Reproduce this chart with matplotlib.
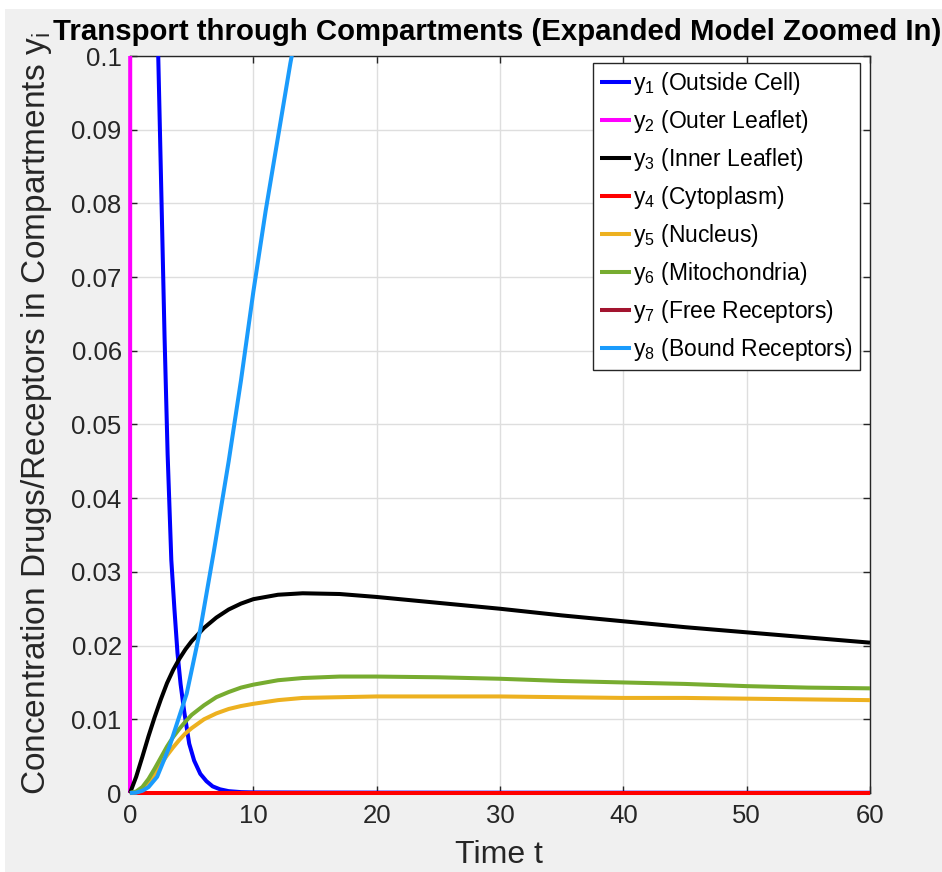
import matplotlib
matplotlib.use("Agg")
import matplotlib.pyplot as plt
from matplotlib.patches import Rectangle
from matplotlib.ticker import FuncFormatter

plt.rcParams['font.family'] = ['Liberation Sans', 'DejaVu Sans']

# time grid shared by the smooth compartments
t = [0, 0.5, 1, 1.5, 2, 2.5, 3, 3.5, 4, 4.5, 5, 6, 7, 8, 9, 10, 12, 14, 17, 20, 25, 30, 35, 40, 45, 50, 55, 60]
y3_inner = [0, 0.0022, 0.0049, 0.0077, 0.0103, 0.0127, 0.0149, 0.0167, 0.0182, 0.0195, 0.0206, 0.0224,
            0.0238, 0.0249, 0.0257, 0.0263, 0.0269, 0.0271, 0.0270, 0.0266, 0.0258, 0.0250, 0.0241,
            0.0233, 0.0225, 0.0218, 0.0211, 0.0204]
y5_nucleus = [0, 0.0001, 0.0004, 0.0012, 0.0026, 0.0039, 0.0051, 0.0062, 0.0072, 0.0081, 0.0088, 0.0100,
              0.0108, 0.0114, 0.0118, 0.0121, 0.0126, 0.0129, 0.0130, 0.0131, 0.0131, 0.0131, 0.0130,
              0.0129, 0.0129, 0.0128, 0.0127, 0.0126]
y6_mito = [0, 0.0002, 0.0008, 0.0019, 0.0033, 0.0048, 0.0063, 0.0076, 0.0087, 0.0097, 0.0106, 0.0119,
           0.0130, 0.0137, 0.0143, 0.0147, 0.0153, 0.0156, 0.0158, 0.0158, 0.0157, 0.0155, 0.0152,
           0.0150, 0.0148, 0.0145, 0.0143, 0.0142]

# outside cell, fast decay
t1 = [0, 0.5, 1, 1.5, 2, 2.29, 2.56, 2.8, 3.05, 3.35, 3.6, 3.85, 4.1, 4.4, 4.8, 5.2, 5.7, 6.2, 6.7,
      7.3, 8, 9, 10, 15, 20, 30, 40, 50, 60]
y1_outside = [1.0, 0.6, 0.35, 0.21, 0.13, 0.1, 0.08, 0.062, 0.046, 0.0316, 0.025, 0.019, 0.0148, 0.011,
              0.0067, 0.0044, 0.0026, 0.0016, 0.0009, 0.0005, 0.00025, 0.00012, 0.00008, 0.00006,
              0.00005, 0.00004, 0.00004, 0.00003, 0.00003]

# outer leaflet shoots straight up off the top
t2 = [0, 0.05, 60]
y2_outer = [0, 0.3, 0.3]

t4 = [0, 10, 20, 30, 40, 50, 60]
y4_cyto = [0, 0, 0, 0, 0, 0, 0]

# free receptors stay above the zoomed window
t7 = [0, 60]
y7_free = [1.0, 0.9]

t8 = [0, 0.5, 1, 1.5, 2.2, 3.2, 4.6, 5.7, 6.8, 8, 9, 10, 11, 12, 13, 14]
y8_bound = [0, 0.00005, 0.0003, 0.0008, 0.0022, 0.0063, 0.0135, 0.0222, 0.0328, 0.045, 0.056,
            0.068, 0.079, 0.089, 0.099, 0.108]

labels = ['Outside Cell', 'Outer Leaflet', 'Inner Leaflet', 'Cytoplasm',
          'Nucleus', 'Mitochondria', 'Free Receptors', 'Bound Receptors']
colors = ['#0000ff', '#ff00ff', '#000000', '#ff0000', '#edb120', '#77ac30', '#a2142f', '#1a9bfc']

W, H = 942, 872
fig = plt.figure(figsize=(W / 100, H / 100), dpi=100, facecolor='white')
fig.patches.append(Rectangle((5 / W, 0), 1, 1 - 9 / H, transform=fig.transFigure,
                             facecolor='#f0f0f0', edgecolor='none', zorder=-10))

ax = fig.add_axes([130 / W, 1 - 793 / H, 740 / W, 737 / H])
ax.set_facecolor('white')

# matlab lets the line width spill past the left/bottom edge, but not the top
clip = Rectangle((-0.004, -0.004), 1.004, 1.004, transform=ax.transAxes, visible=False)
ax.add_patch(clip)

series = [(t1, y1_outside), (t2, y2_outer), (t, y3_inner), (t4, y4_cyto),
          (t, y5_nucleus), (t, y6_mito), (t7, y7_free), (t8, y8_bound)]
lw = 2.9
for i, ((tx, ys), c) in enumerate(zip(series, colors)):
    ln, = ax.plot(tx, ys, color=c, lw=lw, solid_capstyle='butt',
                  label=r'$\mathregular{y_%d}$ (%s)' % (i + 1, labels[i]), zorder=3)
    ln.set_clip_path(clip)

ax.set_xlim(0, 60)
ax.set_ylim(0, 0.1)
ax.set_xticks(range(0, 61, 10))
ax.set_yticks([i / 100 for i in range(11)])
ax.yaxis.set_major_formatter(FuncFormatter(lambda v, p: '%g' % round(v, 3)))
ax.grid(True, color='#dedede', lw=1)
ax.set_axisbelow(True)
for s in ax.spines.values():
    s.set_color('#262626')
    s.set_linewidth(1)
    s.set_zorder(2.5)
ax.tick_params(direction='in', length=5, width=1, color='#262626', labelcolor='#262626',
               labelsize=18.5, top=True, right=True, pad=6)
ax.tick_params(axis='x', pad=8)

leg = ax.legend(loc='upper right', bbox_to_anchor=(1 - 10 / 740, 1 - 7 / 737), borderaxespad=0,
                fontsize=16.5, handlelength=1.35, handletextpad=0.1, labelspacing=0.48,
                borderpad=0.3, fancybox=False, framealpha=1, edgecolor='#262626')
leg.get_frame().set_linewidth(1)
leg.set_zorder(5)

fig.text(53 / W, 1 - 40 / H, 'Transport through Compartments (Expanded Model Zoomed In)',
         fontsize=21.2, fontweight='bold', ha='left', va='baseline')
fig.text(499 / W, 1 - 863 / H, 'Time t', fontsize=23, color='#262626', ha='center', va='baseline')
fig.text(37 / W, 1 - 414 / H, r'Concentration Drugs/Receptors in Compartments $\mathregular{y_i}$',
         fontsize=24, color='#262626', rotation=90, ha='center', va='center')

fig.savefig('out.png', dpi=100, facecolor=fig.get_facecolor())
